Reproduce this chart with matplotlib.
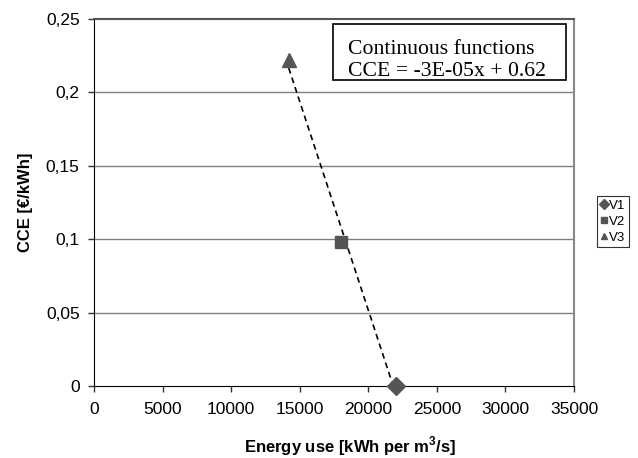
import numpy as np
import matplotlib
matplotlib.use('Agg')
import matplotlib.pyplot as plt
from matplotlib.patches import Rectangle

series = ['V1', 'V2', 'V3']
energy = [22000, 18000, 14200]
cce = [0.0, 0.098, 0.222]
markers = ['D', 's', '^']
msizes = [9.5, 8, 9.5]
xticks = [0, 5000, 10000, 15000, 20000, 25000, 30000, 35000]
yticks = [0, 0.05, 0.1, 0.15, 0.2, 0.25]
ytick_labels = ['0', '0,05', '0,1', '0,15', '0,2', '0,25']

plt.rcParams['font.family'] = ['Liberation Sans', 'DejaVu Sans']

fig = plt.figure(figsize=(6.38, 4.58), dpi=100)
ax = fig.add_axes([94/638, 1-386/458, 480/638, 367/458])

mark_col = '#555555'
handles = []
for i in range(len(series)):
    h, = ax.plot(energy[i], cce[i], marker=markers[i], markersize=msizes[i],
                 color=mark_col, linestyle='None', label=series[i], zorder=4,
                 clip_on=False)
    handles.append(h)

# linear trend through the three points
k, m = np.polyfit(energy, cce, 1)
xx = np.array([min(energy), max(energy)])
ax.plot(xx, k*xx + m, color='black', linestyle=(0, (3.5, 2.5)), linewidth=1.2, zorder=3)

ax.set_xlim(0, 35000)
ax.set_ylim(0, 0.25)
ax.set_xticks(xticks)
ax.set_yticks(yticks)
ax.set_yticklabels(ytick_labels)
ax.tick_params(axis='both', labelsize=12.5, direction='out', length=4.3, width=1, color='#333333')
ax.tick_params(axis='y', pad=6)
ax.tick_params(axis='x', pad=7)
for y in yticks[1:-1]:
    ax.axhline(y, color='#808080', linewidth=1, zorder=1)
ax.spines['left'].set_color('black')
ax.spines['bottom'].set_color('black')
ax.spines['top'].set_color('#555555')
ax.spines['top'].set_linewidth(1.5)
ax.spines['right'].set_color('#888888')
ax.spines['right'].set_linewidth(1.5)

ax.set_xlabel('Energy use [kWh per m$^\\mathregular{3}$/s]', fontsize=12, fontweight='bold')
ax.set_ylabel('CCE [€/kWh]', fontsize=12, fontweight='bold')
ax.xaxis.set_label_coords(0.533, -0.131)
ax.yaxis.set_label_coords(-0.128, 0.5)

# equation box
ax.add_patch(Rectangle((0.498, 0.834), 0.485, 0.152, transform=ax.transAxes,
                       facecolor='white', edgecolor='black', linewidth=1.2, zorder=5))
ax.text(0.529, 0.886, 'Continuous functions\nCCE = -3E-05x + 0.62', transform=ax.transAxes,
        family=['Liberation Serif', 'DejaVu Serif'], fontsize=15.7, va='center', ha='left',
        linespacing=1.2, zorder=6)

leg = fig.legend(handles=handles, loc='upper left', bbox_to_anchor=(597/638, 1-196/458),
                 fontsize=9.5, markerscale=0.5, handlelength=0.5, handletextpad=0.15,
                 borderpad=0.25, labelspacing=0.3, borderaxespad=0, frameon=True,
                 fancybox=False)
leg.get_frame().set_edgecolor('black')
leg.get_frame().set_linewidth(0.8)

fig.savefig('out.png', dpi=100)
